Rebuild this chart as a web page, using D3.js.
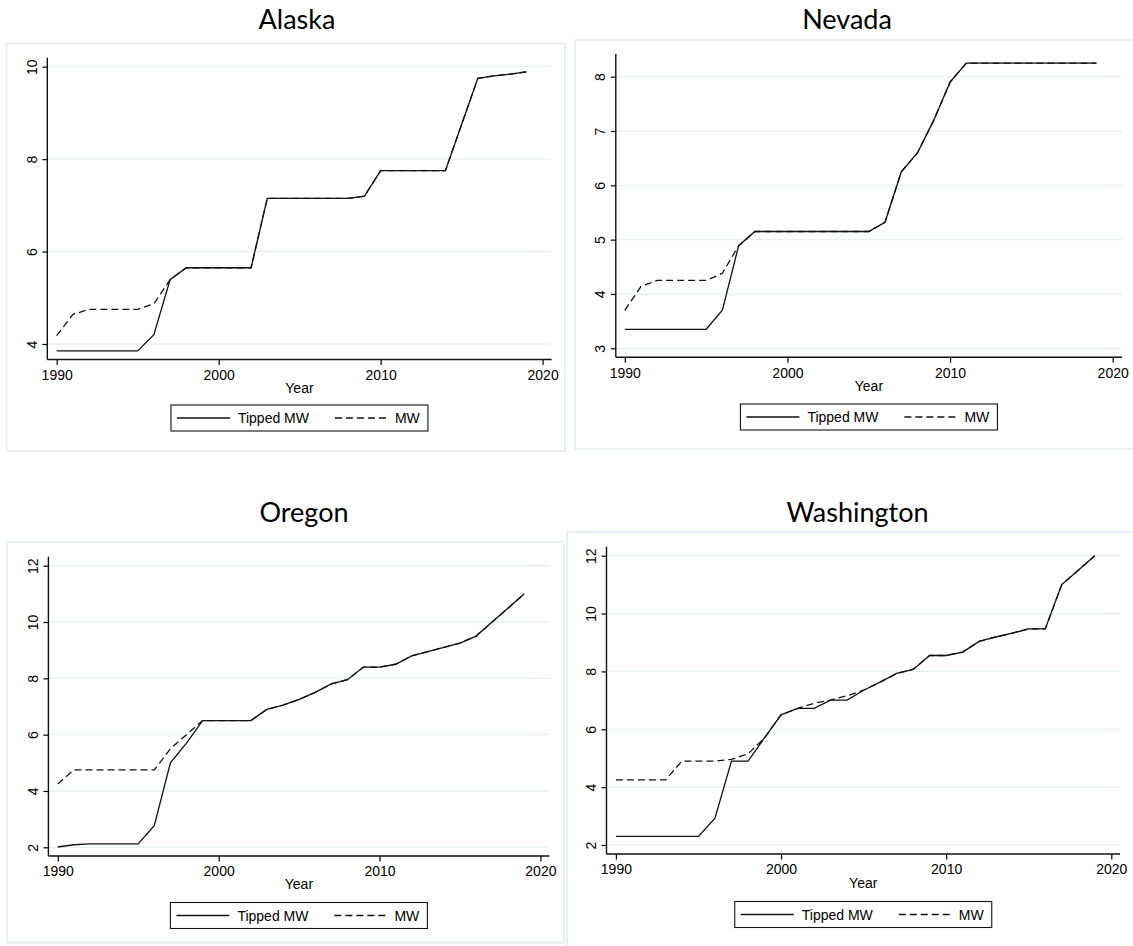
<!DOCTYPE html>
<html><head><meta charset="utf-8">
<script src="https://cdn.jsdelivr.net/npm/d3@7"></script>
<style>body{margin:0;background:#fff} svg{display:block}</style>
</head><body>
<svg id="c" width="1133" height="946"></svg>
<script>
// ---------- DATA ----------
const years = [1990,1991,1992,1993,1994,1995,1996,1997,1998,1999,
               2000,2001,2002,2003,2004,2005,2006,2007,2008,2009,
               2010,2011,2012,2013,2014,2015,2016,2017,2018,2019];
const xTickValues = [1990, 2000, 2010, 2020];
const seriesNames = ["Tipped MW", "MW"];
const stateNames = ["Alaska", "Nevada", "Oregon", "Washington"];

const alaskaTipped = [3.85,3.85,3.85,3.85,3.85,3.85,4.2,5.39,5.65,5.65,
                      5.65,5.65,5.65,7.15,7.15,7.15,7.15,7.15,7.15,7.2,
                      7.75,7.75,7.75,7.75,7.75,8.75,9.75,9.80,9.84,9.89];
const alaskaMW     = [4.18,4.64,4.75,4.75,4.75,4.75,4.87,5.39,5.65,5.65,
                      5.65,5.65,5.65,7.15,7.15,7.15,7.15,7.15,7.15,7.2,
                      7.75,7.75,7.75,7.75,7.75,8.75,9.75,9.80,9.84,9.89];
const alaskaYTicks = [4, 6, 8, 10];

const nevadaTipped = [3.35,3.35,3.35,3.35,3.35,3.35,3.70,4.89,5.15,5.15,
                      5.15,5.15,5.15,5.15,5.15,5.15,5.32,6.25,6.60,7.2,
                      7.90,8.25,8.25,8.25,8.25,8.25,8.25,8.25,8.25,8.25];
const nevadaMW     = [3.70,4.14,4.25,4.25,4.25,4.25,4.38,4.89,5.15,5.15,
                      5.15,5.15,5.15,5.15,5.15,5.15,5.32,6.25,6.60,7.2,
                      7.90,8.25,8.25,8.25,8.25,8.25,8.25,8.25,8.25,8.25];
const nevadaYTicks = [3, 4, 5, 6, 7, 8];

const oregonTipped = [2.01,2.09,2.12,2.12,2.12,2.12,2.78,5.0,5.7,6.5,
                      6.5,6.5,6.5,6.9,7.05,7.25,7.5,7.8,7.95,8.4,
                      8.4,8.5,8.8,8.95,9.1,9.25,9.5,10.0,10.5,11.0];
const oregonMW     = [4.25,4.75,4.75,4.75,4.75,4.75,4.75,5.5,6.0,6.5,
                      6.5,6.5,6.5,6.9,7.05,7.25,7.5,7.8,7.95,8.4,
                      8.4,8.5,8.8,8.95,9.1,9.25,9.5,10.0,10.5,11.0];
const oregonYTicks = [2, 4, 6, 8, 10, 12];

const washingtonTipped = [2.3,2.3,2.3,2.3,2.3,2.3,2.93,4.9,4.9,5.7,
                          6.5,6.72,6.72,7.01,7.01,7.35,7.63,7.93,8.07,8.55,
                          8.55,8.67,9.04,9.19,9.32,9.47,9.47,11.0,11.5,12.0];
const washingtonMW     = [4.25,4.25,4.25,4.25,4.9,4.9,4.9,4.96,5.15,5.7,
                          6.5,6.72,6.9,7.01,7.16,7.35,7.63,7.93,8.07,8.55,
                          8.55,8.67,9.04,9.19,9.32,9.47,9.47,11.0,11.5,12.0];
const washingtonYTicks = [2, 4, 6, 8, 10, 12];

// ---------- LAYOUT ----------
const panels = [
  {name: stateNames[0], tipped: alaskaTipped, mw: alaskaMW, yTicks: alaskaYTicks,
   frame: [6.5, 43.5, 565, 451], x0: 56.7, x1: 542.6, axisX: 47.3, axisRight: 551.6,
   axisTop: 57.7, axisBottom: 359.5, yRef: [4, 344, 10, 66.7],
   titleX: 297, titleY: 29, yearY: 393.3, legendY: 405},
  {name: stateNames[1], tipped: nevadaTipped, mw: nevadaMW, yTicks: nevadaYTicks,
   frame: [575, 40, 1140, 449], x0: 624.8, x1: 1112.7, axisX: 615.8, axisRight: 1122,
   axisTop: 54, axisBottom: 357.3, yRef: [3, 348.3, 8, 76.7],
   titleX: 847, titleY: 29.3, yearY: 390.7, legendY: 404},
  {name: stateNames[2], tipped: oregonTipped, mw: oregonMW, yTicks: oregonYTicks,
   frame: [7.3, 542, 564, 942.7], x0: 57.8, x1: 540.4, axisX: 48.4, axisRight: 549.4,
   axisTop: 556.7, axisBottom: 856, yRef: [2, 847.3, 12, 565.7],
   titleX: 304, titleY: 521.7, yearY: 889, legendY: 902.5},
  {name: stateNames[3], tipped: washingtonTipped, mw: washingtonMW, yTicks: washingtonYTicks,
   frame: [567, 532, 1140, 960], x0: 615.9, x1: 1111.3, axisX: 606.5, axisRight: 1120,
   axisTop: 546.7, axisBottom: 854, yRef: [2, 845, 12, 555.7],
   titleX: 857.5, titleY: 521.7, yearY: 888.3, legendY: 901.5}
];

const svg = d3.select("#c");
svg.append("rect").attr("width", 1133).attr("height", 946).attr("fill", "#fff");

const tickFont = "'Liberation Sans', Arial, sans-serif";
const titleFont = "Lato, 'Open Sans', sans-serif";
const dash = "7,4";

panels.forEach(p => {
  const g = svg.append("g");
  // frame
  g.append("rect")
    .attr("x", p.frame[0]).attr("y", p.frame[1])
    .attr("width", p.frame[2] - p.frame[0]).attr("height", p.frame[3] - p.frame[1])
    .attr("fill", "none").attr("stroke", "#e4ecee").attr("stroke-width", 1.5);

  // title
  g.append("text").attr("x", p.titleX).attr("y", p.titleY)
    .attr("text-anchor", "middle").attr("font-family", titleFont)
    .attr("font-size", 27).attr("fill", "#000").text(p.name);

  const x = d3.scaleLinear().domain([1990, 2020]).range([p.x0, p.x1]);
  const y = d3.scaleLinear().domain([p.yRef[0], p.yRef[2]]).range([p.yRef[1], p.yRef[3]]);

  // gridlines
  g.append("g").selectAll("line").data(p.yTicks).join("line")
    .attr("x1", p.axisX).attr("x2", p.axisRight)
    .attr("y1", d => y(d)).attr("y2", d => y(d))
    .attr("stroke", "#e8f0f1").attr("stroke-width", 1.3);

  // x axis ticks
  const xa = g.append("g").attr("transform", `translate(0,${p.axisBottom})`)
    .call(d3.axisBottom(x).tickValues(xTickValues).tickSize(5.5).tickPadding(5).tickFormat(d3.format("d")));
  xa.select(".domain").remove();
  xa.selectAll("line").attr("stroke", "#000").attr("stroke-width", 1.2);
  xa.selectAll("text").attr("font-family", tickFont).attr("font-size", 14).attr("fill", "#000");

  // y axis ticks
  const ya = g.append("g").attr("transform", `translate(${p.axisX},0)`)
    .call(d3.axisLeft(y).tickValues(p.yTicks).tickSize(5).tickFormat(d3.format("d")));
  ya.select(".domain").remove();
  ya.selectAll("line").attr("stroke", "#000").attr("stroke-width", 1.2);
  ya.selectAll("text").attr("font-family", tickFont).attr("font-size", 14).attr("fill", "#000")
    .attr("x", null).attr("dy", null).attr("text-anchor", "middle")
    .attr("transform", "translate(-10.5,0) rotate(-90)");

  // axis lines
  g.append("line").attr("x1", p.axisX).attr("x2", p.axisX)
    .attr("y1", p.axisTop).attr("y2", p.axisBottom)
    .attr("stroke", "#111").attr("stroke-width", 1.4);
  g.append("line").attr("x1", p.axisX).attr("x2", p.axisRight)
    .attr("y1", p.axisBottom).attr("y2", p.axisBottom)
    .attr("stroke", "#111").attr("stroke-width", 1.4);

  // lines
  const line = d3.line().x((d, i) => x(years[i])).y(d => y(d));
  g.append("path").datum(p.mw).attr("d", line)
    .attr("fill", "none").attr("stroke", "#111").attr("stroke-width", 1.3)
    .attr("stroke-dasharray", dash);
  g.append("path").datum(p.tipped).attr("d", line)
    .attr("fill", "none").attr("stroke", "#111").attr("stroke-width", 1.3);

  // Year label
  const mid = (p.axisX + p.axisRight) / 2;
  g.append("text").attr("x", mid).attr("y", p.yearY)
    .attr("text-anchor", "middle").attr("font-family", tickFont)
    .attr("font-size", 14).attr("fill", "#000").text("Year");

  // legend
  const lw = 257, lh = 26;
  const L = mid - lw / 2, T = p.legendY;
  const lg = g.append("g");
  lg.append("rect").attr("x", L).attr("y", T).attr("width", lw).attr("height", lh)
    .attr("fill", "#fff").attr("stroke", "#111").attr("stroke-width", 1.1);
  const cy = T + lh / 2;
  lg.append("line").attr("x1", L + 6).attr("x2", L + 59).attr("y1", cy).attr("y2", cy)
    .attr("stroke", "#111").attr("stroke-width", 1.3);
  lg.append("text").attr("x", L + 67).attr("y", cy + 5).attr("font-family", tickFont)
    .attr("font-size", 14).attr("fill", "#000").text(seriesNames[0]);
  lg.append("line").attr("x1", L + 164).attr("x2", L + 216).attr("y1", cy).attr("y2", cy)
    .attr("stroke", "#111").attr("stroke-width", 1.3).attr("stroke-dasharray", dash);
  lg.append("text").attr("x", L + 224).attr("y", cy + 5).attr("font-family", tickFont)
    .attr("font-size", 14).attr("fill", "#000").text(seriesNames[1]);
});
</script>
</body></html>
